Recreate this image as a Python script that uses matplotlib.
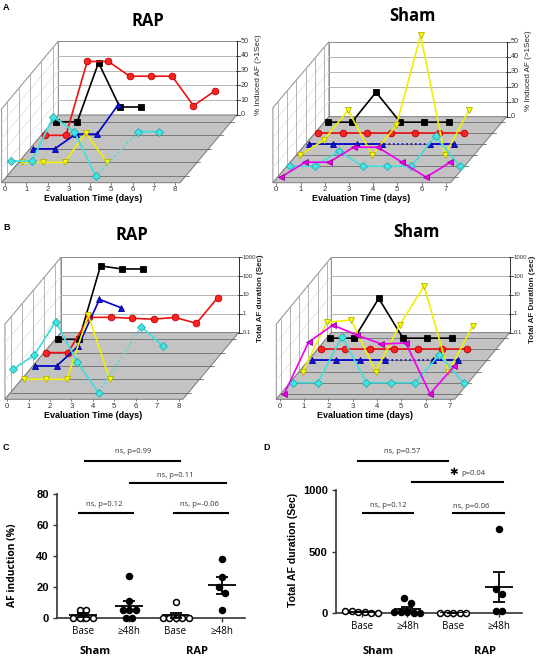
import numpy as np
import matplotlib
matplotlib.use("Agg")
import matplotlib.pyplot as plt
import matplotlib.transforms as mtransforms
from matplotlib.patches import Polygon

W, H = 537, 658

# ---- panel A: % induced AF per day (rows listed front to back) ----
a_rap_cyan = [10, 10, 40, 30, 0, np.nan, 30, 30]
a_rap_yellow = [0, 0, 0, 20, 0]
a_rap_blue = [0, 0, 10, 10, 30]
a_rap_red = [0, 0, 50, 50, 40, 40, 40, 20, 30]
a_rap_black = [0, 0, 40, 10, 10]

a_sham_magenta = [0, 10, 10, 20, 20, 10, 0, 10]
a_sham_cyan = [0, 0, 10, 0, 0, 0, 20, 0]
a_sham_yellow = [0, 10, 30, 0, 20, 80, 0, 30]
a_sham_blue = [0, 0, 0, 0, np.nan, 0, 0]
a_sham_red = [0, 0, 0, 0, 0, 0, 0]
a_sham_black = [0, 0, 20, 0, 0, 0]

# ---- panel B: total AF duration per day (sec, 0.1 = none) ----
b_rap_cyan = [1.7, 10, 600, 4.4, 0.1, np.nan, 320, 30]
b_rap_yellow = [0.1, 0.1, 0.1, 260, 0.1]
b_rap_blue = [0.1, 0.1, 1.1, 350, 125]
b_rap_red = [0.1, 0.1, 7.5, 7.5, 6.7, 6, 7.5, 3.6, 83]
b_rap_black = [0.1, 0.1, 800, 550, 550]

b_sham_magenta = [0.1, 56, 450, 130, 44, 50, 0.1, 3]
b_sham_cyan = [0.1, 0.1, 28, 0.1, 0.1, 0.1, 3, 0.1]
b_sham_yellow = [0.1, 41, 55, 0.1, 30, 3500, 0.1, 26]
b_sham_blue = [0.1, 0.1, 0.1, 0.1, np.nan, 0.1, 0.1]
b_sham_red = [0.1, 0.1, 0.1, 0.1, 0.1, 0.1, 0.1]
b_sham_black = [0.1, 0.1, 13, 0.1, 0.1, 0.1]

# ---- panels C and D ----
group_labels = ["Base", "\u226548h", "Base", "\u226548h"]
c_sham_base = [5, 5, 0, 0, 0, 0]
c_sham_48h = [27, 11, 5, 5, 5, 0, 0]
c_rap_base = [10, 0, 0, 0, 0, 0]
c_rap_48h = [38, 26, 20, 16, 5]

d_sham_base = [20, 20, 5, 5, 0, 0]
d_sham_48h = [122, 84, 5, 5, 5, 0, 0]
d_rap_base = [0, 0, 0, 0, 0]
d_rap_48h = [683, 198, 157, 20, 16]

STYLE = {
    "black": dict(color="#000000", marker="s", mfc="#000000", mec="#000000", ms=4.2),
    "red": dict(color="#ee1111", marker="o", mfc="#ff2222", mec="#bb0000", ms=4.8),
    "blue": dict(color="#0000cc", marker="^", mfc="#1111ee", mec="#000088", ms=4.8),
    "yellow": dict(color="#f0f000", marker="v", mfc="#ffff00", mec="#b0b000", ms=4.8),
    "cyan": dict(color="#40dede", marker="D", mfc="#44e4e4", mec="#22aaaa", ms=3.9),
    "magenta": dict(color="#ee00ee", marker="<", mfc="#ee00ee", mec="#990099", ms=4.8),
}

fig = plt.figure(figsize=(W / 100, H / 100), dpi=100)


def ftext(px, py, s, **kw):
    fig.text(px / W, 1 - py / H, s, **kw)


def box_panel(rect, g, rows, zticks, zticklabels, nticks, log=False, zfs=5.2):
    L, T, R, B = rect
    ax = fig.add_axes([L / W, 1 - B / H, (R - L) / W, (B - T) / H])
    ax.set_xlim((L - g["ox"]) / g["sx"], (R - g["ox"]) / g["sx"])
    ax.set_ylim((g["oy"] - B) / g["sz"], (g["oy"] - T) / g["sz"])
    ax.axis("off")
    DX = g["dxp"] / g["sx"]
    DZ = g["dyp"] / g["sz"]
    x0, x1, zt = g["xmin"], g["xmax"], g["zmax"]

    def P(x, z, f):
        return (x + f * DX, z + f * DZ)

    n = len(rows)
    fr = [(i + 0.5) / n for i in range(n)]

    # walls
    ax.add_patch(Polygon([P(x0, 0, 1), P(x1, 0, 1), P(x1, zt, 1), P(x0, zt, 1)],
                         fc="white", ec="#8c8c8c", lw=0.7, zorder=1))
    ax.add_patch(Polygon([P(x0, 0, 0), P(x0, 0, 1), P(x0, zt, 1), P(x0, zt, 0)],
                         fc="white", ec="#8c8c8c", lw=0.7, zorder=1))
    for z in zticks[1:-1]:
        a, b = P(x0, z, 1), P(x1, z, 1)
        ax.plot([a[0], b[0]], [a[1], b[1]], color="#a8a8a8", lw=0.6, zorder=1.2)
        a, b = P(x0, z, 0), P(x0, z, 1)
        ax.plot([a[0], b[0]], [a[1], b[1]], color="#dedede", lw=0.5, zorder=1.2)
    for f in fr:
        a, b = P(x0, 0, f), P(x0, zt, f)
        ax.plot([a[0], b[0]], [a[1], b[1]], color="#a8a8a8", lw=0.6, zorder=1.2)

    # floor
    ax.add_patch(Polygon([P(x0, 0, 0), P(x1, 0, 0), P(x1, 0, 1), P(x0, 0, 1)],
                         fc="#c3c3c3", ec="#7a7a7a", lw=0.7, zorder=2))
    for f in fr:
        a, b = P(x0, 0, f), P(x1, 0, f)
        ax.plot([a[0], b[0]], [a[1], b[1]], color="#6e6e6e", lw=0.6, zorder=2.1)
        c = P(x1, 0, f)
        ax.plot([c[0], c[0] + 3 / g["sx"]], [c[1], c[1]], color="#555555", lw=0.5, zorder=2.1)

    # right z axis
    a, b = P(x1, 0, 1), P(x1, zt, 1)
    ax.plot([a[0], b[0]], [a[1], b[1]], color="#333333", lw=0.7, zorder=1.3)
    for z, lab in zip(zticks, zticklabels):
        xx, zz = P(x1, z, 1)
        ax.plot([xx - 1 / g["sx"], xx + 3 / g["sx"]], [zz, zz], color="#333333", lw=0.6)
        ax.text(xx + 4 / g["sx"], zz, lab, ha="left", va="center", fontsize=zfs,
                color="#333333", family="Liberation Sans")

    # day ticks on the front edge
    for d in range(nticks):
        ax.plot([d, d], [0, -2 / g["sz"]], color="#555555", lw=0.5)
        ax.text(d, -7 / g["sz"], str(d), ha="center", va="center", fontsize=5.5,
                color="#333333", family="Liberation Sans")

    # animals, back rows first
    for i, (vals, key) in enumerate(rows):
        f = fr[i]
        v = np.asarray(vals, dtype=float)
        z = np.log10(v) + 1 if log else v
        days = np.arange(len(z))
        tr = mtransforms.Affine2D().translate(f * DX, f * DZ) + ax.transData
        st = STYLE[key]
        zo = 10 + (n - i)
        ok = ~np.isnan(z)
        if not ok.all():
            ax.plot(days[ok], z[ok], color=st["color"], ls=":", lw=1.2,
                    transform=tr, zorder=zo)
        ax.plot(days, z, color=st["color"], lw=1.2, marker=st["marker"],
                ms=st["ms"], mfc=st["mfc"], mec=st["mec"], mew=0.6,
                transform=tr, zorder=zo)
    return ax


geo_a_rap = dict(ox=5, oy=182.7, sx=21.25, sz=1.477, dxp=56.7, dyp=67.7,
                 xmin=-0.16, xmax=8.24, zmax=50)
geo_a_sham = dict(ox=276.3, oy=182.7, sx=24.2, sz=1.5, dxp=56, dyp=66,
                  xmin=-0.14, xmax=7.2, zmax=50)
geo_b_rap = dict(ox=7.3, oy=399.3, sx=21.4, sz=18.8, dxp=56, dyp=66.7,
                 xmin=-0.11, xmax=8.2, zmax=4)
geo_b_sham = dict(ox=279.7, oy=399.3, sx=24.3, sz=18.8, dxp=55, dyp=66.7,
                  xmin=-0.14, xmax=7.2, zmax=4)

pct_ticks = [0, 10, 20, 30, 40, 50]
pct_labels = [str(t) for t in pct_ticks]
dur_ticks = [0, 1, 2, 3, 4]
dur_labels = ["0.1", "1", "10", "100", "1000"]

box_panel((0, 30, 268, 205), geo_a_rap,
          [(a_rap_cyan, "cyan"), (a_rap_yellow, "yellow"), (a_rap_blue, "blue"),
           (a_rap_red, "red"), (a_rap_black, "black")],
          pct_ticks, pct_labels, 9)
box_panel((268, 20, 537, 205), geo_a_sham,
          [(a_sham_magenta, "magenta"), (a_sham_cyan, "cyan"), (a_sham_yellow, "yellow"),
           (a_sham_blue, "blue"), (a_sham_red, "red"), (a_sham_black, "black")],
          pct_ticks, pct_labels, 8)
box_panel((0, 245, 268, 420), geo_b_rap,
          [(b_rap_cyan, "cyan"), (b_rap_yellow, "yellow"), (b_rap_blue, "blue"),
           (b_rap_red, "red"), (b_rap_black, "black")],
          dur_ticks, dur_labels, 9, log=True, zfs=4.3)
box_panel((268, 245, 537, 420), geo_b_sham,
          [(b_sham_magenta, "magenta"), (b_sham_cyan, "cyan"), (b_sham_yellow, "yellow"),
           (b_sham_blue, "blue"), (b_sham_red, "red"), (b_sham_black, "black")],
          dur_ticks, dur_labels, 8, log=True, zfs=4.3)

title_kw = dict(ha="center", va="center", fontsize=12, fontweight="bold", family="Open Sans")
ftext(148, 21, "RAP", **title_kw)
ftext(412, 16, "Sham", **title_kw)
ftext(132, 235, "RAP", **title_kw)
ftext(416, 232, "Sham", **title_kw)

xl_kw = dict(ha="center", va="center", fontsize=6.5, fontweight="bold", family="Liberation Sans")
ftext(93, 198, "Evaluation Time (days)", **xl_kw)
ftext(361, 198, "Evaluation Time (days)", **xl_kw)
ftext(93, 416, "Evaluation Time (days)", **xl_kw)
ftext(365, 416, "Evaluation time (days)", **xl_kw)

zl_kw = dict(ha="center", va="center", fontsize=5.8, rotation=90, color="#222222",
             family="Liberation Sans")
ftext(258, 75, "% Induced AF (>1Sec)", **zl_kw)
ftext(529, 71, "% Induced AF (>1Sec)", **zl_kw)
ftext(261, 298, "Total AF duration (Sec)", fontweight="bold", **zl_kw)
ftext(532, 299, "Total AF Duration (sec)", fontweight="bold", **zl_kw)

let_kw = dict(ha="left", va="center", fontsize=6.5, fontweight="bold", family="Liberation Sans")
ftext(3, 8, "A", **let_kw)
ftext(3, 228, "B", **let_kw)
ftext(3, 448, "C", **let_kw)
ftext(263, 448, "D", **let_kw)


def swarm(vals, tol, step):
    v = np.asarray(vals, dtype=float)
    order = np.argsort(-v)
    off = np.zeros(len(v))
    cluster = [order[0]]
    for k in order[1:]:
        if v[cluster[-1]] - v[k] < tol:
            cluster.append(k)
        else:
            m = len(cluster)
            off[cluster] = (np.arange(m) - (m - 1) / 2) * step
            cluster = [k]
    m = len(cluster)
    off[cluster] = (np.arange(m) - (m - 1) / 2) * step
    return off


def dot_panel(rect, groups, ymax, yticks, sig):
    L, T, R, B = rect
    ax = fig.add_axes([L / W, 1 - B / H, (R - L) / W, (B - T) / H])
    pos = np.arange(len(groups))
    ax.set_xlim(-0.56, 3.5)
    ax.set_ylim(0, ymax)
    pxu_x = (R - L) / 4.06
    pxu_y = (B - T) / ymax
    for p, (vals, filled) in zip(pos, groups):
        v = np.asarray(vals, dtype=float)
        off = swarm(v, 7 / pxu_y, 6.5 / pxu_x)
        ax.plot(p + off, v, "o", ms=4.3, mfc="black" if filled else "white",
                mec="black", mew=1.1, clip_on=False, zorder=3)
        mean = v.mean()
        sem = v.std(ddof=1) / np.sqrt(len(v))
        ax.hlines(mean, p - 0.3, p + 0.3, color="black", lw=1.3, zorder=4)
        ax.errorbar(p, mean, yerr=sem, fmt="none", ecolor="black", elinewidth=1.3,
                    capsize=4.5, capthick=1.3, zorder=4)
    for spine in ["top", "right"]:
        ax.spines[spine].set_visible(False)
    for spine in ["left", "bottom"]:
        ax.spines[spine].set_linewidth(1.2)
        ax.spines[spine].set_color("#333333")
    ax.set_yticks(yticks)
    ax.set_yticklabels([str(t) for t in yticks], fontsize=8, fontweight="bold",
                       family="Liberation Sans")
    ax.set_xticks(pos)
    ax.set_xticklabels(group_labels, fontsize=7, family="Open Sans")
    ax.tick_params(axis="both", length=3, width=1.0, color="#333333", pad=3)
    for x_a, x_b, y, label, ytxt, xtxt in sig:
        ax.plot([x_a, x_b], [y, y], color="black", lw=1.5, clip_on=False)
        ax.text(xtxt, ytxt, label, ha="center", va="center", fontsize=5.5,
                color="#333333", family="Open Sans", clip_on=False)
    return ax


# C: px per unit 1.546, 0 at y=617.7
ax_c = dot_panel((57, 494, 245, 617.7),
                 [(c_sham_base, False), (c_sham_48h, True), (c_rap_base, False), (c_rap_48h, True)],
                 80, [0, 20, 40, 60, 80],
                 [(0.04, 2.09, 101.4, "ns, p=0.99", 107.5, 1.08),
                  (1.01, 3.09, 87.1, "ns, p=0.11", 91.8, 1.99),
                  (-0.09, 1.08, 67.7, "ns, p=0.12", 72.9, 0.45),
                  (1.96, 3.13, 67.7, "ns, p=-0.06", 73.5, 2.52)])
ax_d = dot_panel((336, 490, 522, 613),
                 [(d_sham_base, False), (d_sham_48h, True), (d_rap_base, False), (d_rap_48h, True)],
                 1000, [0, 500, 1000],
                 [(-0.08, 1.89, 1236, "ns, p=0.57", 1309, 0.88),
                  (1.09, 3.08, 1065, "p=0.04", 1138, 2.45),
                  (0.02, 1.11, 813, "ns, p=0.12", 878, 0.57),
                  (1.99, 3.1, 813, "ns, p=0.06", 862, 2.39)])
ax_d.text(2.0, 1145, "\u2731", ha="center", va="center", fontsize=7.5, fontweight="bold",
          family="DejaVu Sans", clip_on=False)

grp_kw = dict(ha="center", va="center", fontsize=8, fontweight="bold", family="Open Sans")
ftext(95, 651, "Sham", **grp_kw)
ftext(197, 651, "RAP", **grp_kw)
ftext(378, 651, "Sham", **grp_kw)
ftext(485, 651, "RAP", **grp_kw)

yl_kw = dict(ha="center", va="center", rotation=90, fontweight="bold")
ftext(13, 565, "AF induction (%)", fontsize=7.4, family="Open Sans", **yl_kw)
ftext(293, 550, "Total AF duration (Sec)", fontsize=7.6, family="Liberation Sans", **yl_kw)

fig.savefig("out.png", dpi=100)
